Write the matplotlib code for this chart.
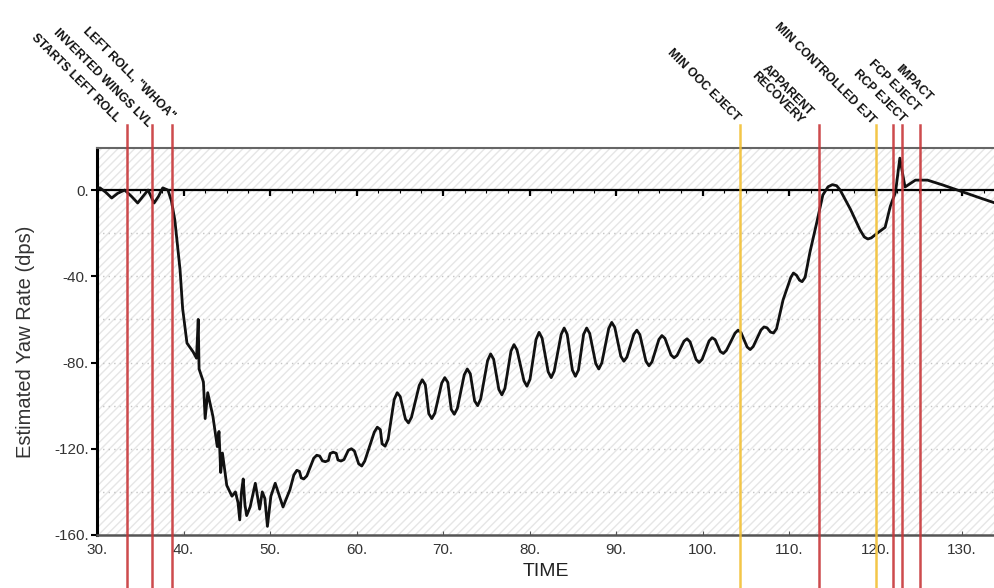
import matplotlib
matplotlib.use("Agg")
import matplotlib.pyplot as plt
import matplotlib.transforms as mtransforms
import numpy as np

plt.rcParams['font.family'] = ['Liberation Sans', 'DejaVu Sans']

# estimated yaw rate trace
# roll-in and spin entry (30 - 53 s)
time_entry = [30.0, 30.35, 31.0, 31.7, 32.4, 33.2, 34.0, 34.7, 35.3, 35.9, 36.6, 37.1, 37.6, 38.2,
              38.6, 39.0, 39.6, 39.9, 40.4, 41.1, 41.5, 41.7, 41.8, 42.3, 42.5, 42.8, 43.4, 43.9,
              44.1, 44.3, 44.5, 45.0, 45.6, 46.0, 46.3, 46.5, 46.7, 46.9, 47.1, 47.3, 47.7, 48.3,
              48.8, 49.1, 49.4, 49.7, 50.1, 50.6, 51.5, 52.3, 52.75]
yaw_entry = [1, 1, -1, -3.7, -1.5, 0, -3, -6, -3, 0, -6, -3, 1, 0,
             -5, -14, -37, -55, -71, -75, -78, -60, -83, -89, -106, -94, -105, -119,
             -112, -131, -122, -137, -142, -140, -145, -153, -140, -134, -146, -151, -147, -136,
             -148, -140, -143, -156, -142, -136, -147, -139, -132.2]

# oscillating spin (53 - 109 s)
time_spin = [53.1, 53.4, 53.6, 53.9, 54.25, 55.05, 55.4, 55.75, 56.05, 56.4, 56.75, 56.95, 57.3,
             57.65, 57.85, 58.2, 58.55, 59.05, 59.4, 59.75, 60.25, 60.6, 60.95, 62.05, 62.4,
             62.75, 62.95, 63.3, 63.65, 64.35, 64.7, 65.05, 65.65, 66.0, 66.35, 67.25, 67.6,
             67.95, 68.35, 68.7, 69.05, 69.85, 70.2, 70.55, 70.95, 71.3, 71.65, 72.45, 72.8,
             73.15, 73.65, 74.0, 74.35, 75.15, 75.5, 75.85, 76.45, 76.8, 77.15, 77.85, 78.2,
             78.55, 79.35, 79.7, 80.05, 80.75, 81.1, 81.45, 82.15, 82.5, 82.85, 83.65, 84.0,
             84.35, 84.95, 85.3, 85.65, 86.25, 86.6, 86.95, 87.65, 88.0, 88.35, 89.15, 89.5,
             89.85, 90.55, 90.9, 91.25, 92.05, 92.4, 92.75, 93.45, 93.8, 94.15, 94.95, 95.3,
             95.65, 96.35, 96.7, 97.05, 97.85, 98.2, 98.55, 99.25, 99.6, 99.95, 100.75, 101.1,
             101.45, 102.05, 102.4, 102.75, 103.75, 104.1, 104.45, 105.15, 105.5, 105.85, 106.75,
             107.1, 107.45, 107.85, 108.2, 108.55]
yaw_spin = [-130, -130.5, -133.5, -134, -132.6, -124.4, -123, -123.4, -125.6, -126, -125.4, -122.2,
            -121.6, -122.1, -125.2, -125.7, -125, -120.7, -120, -121, -127, -128, -125.7, -112.3,
            -110, -111.1, -117.7, -118.8, -115.6, -97.2, -94, -95.8, -106.2, -108, -105.4, -90.6,
            -88, -90.3, -103.7, -106, -103.5, -89.5, -87, -89.2, -101.8, -104, -101.3, -85.7,
            -83, -85.2, -97.8, -100, -96.9, -79.1, -76, -78.5, -92.5, -95, -92, -74.7, -71.7,
            -74.2, -88.5, -91, -87.8, -69.3, -66, -68.7, -84.3, -87, -84, -67, -64,
            -66.9, -83.5, -86.4, -83.5, -66.9, -64, -66.5, -80.5, -83, -80.2, -64.2, -61.4,
            -63.7, -77.1, -79.4, -77.5, -66.9, -65, -67.1, -79.4, -81.5, -79.7, -69.3, -67.5,
            -68.8, -76.5, -77.8, -76.7, -70.1, -69, -70.4, -78.6, -80, -78.5, -70, -68.5,
            -69.4, -74.9, -75.8, -74.4, -66.4, -65, -66.2, -72.8, -74, -72.6, -64.9,
            -63.5, -63.9, -65.9, -66.3, -64.3]

# recovery and impact (109 - 134 s)
time_exit = [109.3, 110.2, 110.5, 110.85, 111.2, 111.5, 111.85, 112.4, 113.2, 113.9, 114.5, 115.0,
             115.5, 115.9, 117.1, 118.2, 118.7, 119.1, 119.5, 120.2, 121.1, 121.7, 122.3, 122.8,
             123.4, 124.6, 126.0, 127.8, 129.8, 132.1, 133.8]
yaw_exit = [-51, -40.5, -38.5, -39.5, -41.8, -42.5, -40.5, -29, -15, -2.3, 1.5, 2.5,
            2, 0, -9, -18.5, -21.8, -22.7, -22.2, -20, -17.3, -7.5, -1, 14.8,
            1.4, 4.6, 4.6, 2.3, -0.5, -3.7, -6]

# event markers
event_time = [33.5, 36.4, 38.7, 104.3, 113.4, 120.1, 122.0, 123.1, 125.1]
event_color = ['red', 'red', 'red', 'yellow', 'red', 'yellow', 'red', 'red', 'red']
event_label = ['STARTS LEFT ROLL', 'INVERTED WINGS LVL', 'LEFT ROLL, "WHOA"', 'MIN OOC EJECT',
               'APPARENT\nRECOVERY', 'MIN CONTROLLED EJT', 'RCP EJECT', 'FCP EJECT', 'IMPACT']
label_x = [32.4, 36.1, 38.8, 104.1, 112.0, 119.7, 123.2, 124.9, 126.3]
label_ypx = [120, 125, 118, 120, 118, 122, 120, 110, 100]

xticks = [30, 40, 50, 60, 70, 80, 90, 100, 110, 120, 130]
yticks = [0, -40, -80, -120, -160]

colors = {'red': '#c8373a', 'yellow': '#f2c035'}

time = time_entry + time_spin + time_exit
yaw = yaw_entry + yaw_spin + yaw_exit

fig = plt.figure(figsize=(9.95, 5.88), dpi=100)
ax = fig.add_axes([97 / 995, 53 / 588, 898 / 995, 387 / 588])
ax.set_xlim(30, 133.8)
ax.set_ylim(-160, 19.5)

# faint background texture
ax.add_patch(plt.Rectangle((0, 0), 1, 1, transform=ax.transAxes, facecolor='white',
                           edgecolor='#e6e6e6', hatch='////', lw=0, zorder=0))
for gy in np.arange(-140, 20, 20):
    ax.axhline(gy, color='#c4c4c4', lw=1.0, ls=(0, (1, 3)), zorder=1)

# zero line with ticks
ax.axhline(0, color='black', lw=1.6, zorder=3)
ax.vlines(np.arange(40, 131, 10), -2.8, 0, color='black', lw=1.6, zorder=3)
ax.vlines(np.arange(32.5, 133, 2.5), -1.2, 0, color='black', lw=0.8, zorder=3)

ax.plot(time, yaw, color='#111111', lw=2.0, solid_joinstyle='round', zorder=4)

trans = mtransforms.blended_transform_factory(ax.transData, ax.transAxes)
for t, c in zip(event_time, event_color):
    ax.plot([t, t], [-0.137, 1.0594], transform=trans, color=colors[c], lw=1.8,
            alpha=0.9, clip_on=False, zorder=5)
for lx, lyp, lab in zip(label_x, label_ypx, event_label):
    ax.text(lx, (535 - lyp) / 387, lab, transform=trans, rotation=-45,
            rotation_mode='anchor', ha='right', va='center', multialignment='right',
            fontsize=8.8, fontweight='bold', color='#111111', linespacing=1.0)

ax.set_xticks(xticks)
ax.set_xticklabels([f'{v}.' for v in xticks])
ax.set_yticks(yticks)
ax.set_yticklabels([f'{v}.' for v in yticks])
ax.tick_params(axis='x', direction='in', length=3, labelsize=11, labelcolor='#333333',
               pad=6, color='#555555')
ax.tick_params(axis='y', direction='out', length=4, width=1.5, labelsize=11,
               labelcolor='#333333', pad=2)

ax.spines['right'].set_visible(False)
ax.spines['left'].set_linewidth(2.2)
ax.spines['left'].set_color('black')
ax.spines['top'].set_color('#666666')
ax.spines['top'].set_linewidth(1.5)
ax.spines['bottom'].set_color('#555555')
ax.spines['bottom'].set_linewidth(1.8)

ax.set_xlabel('TIME', fontsize=14, color='#222222', labelpad=4)
ax.set_ylabel('Estimated Yaw Rate (dps)', fontsize=14.5, color='#333333', labelpad=14)

fig.savefig('out.png', dpi=100)
